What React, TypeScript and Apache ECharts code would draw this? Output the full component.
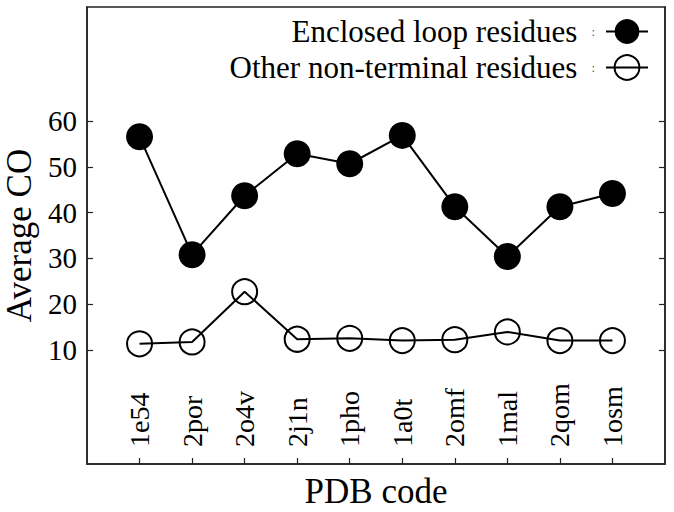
import React, { useEffect, useRef } from "react";
import * as echarts from "echarts";

const categories = ["1e54", "2por", "2o4v", "2j1n", "1pho", "1a0t", "2omf", "1mal", "2qom", "1osm"];
const enclosedLoop = [56.6, 30.8, 43.7, 52.9, 50.7, 56.9, 41.3, 30.4, 41.3, 44.2];
const otherNonTerminal = [11.3, 11.7, 22.7, 12.3, 12.5, 12.0, 12.2, 13.9, 12.0, 12.0];
const yTicks = [10, 20, 30, 40, 50, 60];
const xTicks = categories.map((_, i) => i);

const FONT = '"Liberation Serif", "Times New Roman", serif';

export default function App() {
  const ref = useRef<HTMLDivElement>(null);
  useEffect(() => {
    if (!ref.current) return;
    const chart = echarts.init(ref.current, null, { renderer: "svg" });
    const toPts = (arr: number[]) => arr.map((v, i) => [i, v]);
    chart.setOption({
      animation: false,
      backgroundColor: "#ffffff",
      textStyle: { fontFamily: FONT, color: "#000" },
      grid: {
        left: 87, top: 7, right: 9, bottom: 48,
        show: true, borderColor: "#222", borderWidth: 1.5,
        containLabel: false, outerBoundsMode: "none",
      },
      legend: {
        right: 20,
        top: 11,
        orient: "vertical",
        align: "right",
        itemWidth: 42,
        itemHeight: 31,
        itemGap: 5,
        selectedMode: false,
        formatter: (name: string) => `{a|${name}}{b|:}`,
        textStyle: {
          fontFamily: FONT,
          color: "#000",
          rich: {
            a: { fontFamily: FONT, fontSize: 31, lineHeight: 31, color: "#000" },
            b: { fontFamily: FONT, fontSize: 13, color: "#555", padding: [0, 6, 0, 14] },
          },
        },
        data: ["Enclosed loop residues", "Other non-terminal residues"],
      },
      xAxis: {
        type: "value",
        min: -1,
        max: 10,
        interval: 1,
        name: "PDB code",
        nameLocation: "middle",
        nameGap: 10,
        nameTextStyle: { fontFamily: FONT, fontSize: 35, color: "#000", verticalAlign: "top" },
        axisLine: { show: true, onZero: false, lineStyle: { color: "#222", width: 1.5 } },
        splitLine: { show: false },
        axisTick: { show: true, inside: true, length: 6, customValues: xTicks, lineStyle: { color: "#222", width: 1.2 } },
        axisLabel: {
          inside: true,
          rotate: 90,
          margin: 17,
          customValues: xTicks,
          fontFamily: FONT,
          fontSize: 28,
          color: "#000",
          formatter: (v: number) => (categories[v] !== undefined ? categories[v] : ""),
        },
      },
      yAxis: [
        {
          type: "value",
          min: -15,
          max: 85,
          name: "Average CO",
          nameLocation: "middle",
          nameGap: 47,
          nameTextStyle: { fontFamily: FONT, fontSize: 35, color: "#000" },
          axisLine: { show: true, onZero: false, lineStyle: { color: "#222", width: 1.5 } },
          splitLine: { show: false },
          axisTick: { show: true, inside: true, length: 6, customValues: yTicks, lineStyle: { color: "#222", width: 1.2 } },
          axisLabel: { customValues: yTicks, margin: 10, fontFamily: FONT, fontSize: 29, color: "#000" },
        },
        {
          type: "value",
          min: -15,
          max: 85,
          position: "right",
          axisLine: { show: true, onZero: false, lineStyle: { color: "#222", width: 1.5 } },
          splitLine: { show: false },
          axisTick: { show: true, inside: true, length: 6, customValues: yTicks, lineStyle: { color: "#222", width: 1.2 } },
          axisLabel: { show: false },
        },
      ],
      series: [
        {
          name: "Enclosed loop residues",
          type: "line",
          data: toPts(enclosedLoop),
          symbol: "circle",
          symbolSize: 27,
          lineStyle: { color: "#000", width: 2 },
          itemStyle: { color: "#000" },
          z: 3,
        },
        {
          name: "Other non-terminal residues",
          type: "line",
          data: toPts(otherNonTerminal),
          symbol: "circle",
          symbolSize: 25,
          lineStyle: { color: "#000", width: 2 },
          itemStyle: { color: "rgba(0,0,0,0)", borderColor: "#000", borderWidth: 2 },
          z: 3,
        },
      ],
    });
    return () => chart.dispose();
  }, []);
  return <div ref={ref} style={{ width: 674, height: 512, position: "absolute", left: 0, top: 0 }} />;
}
